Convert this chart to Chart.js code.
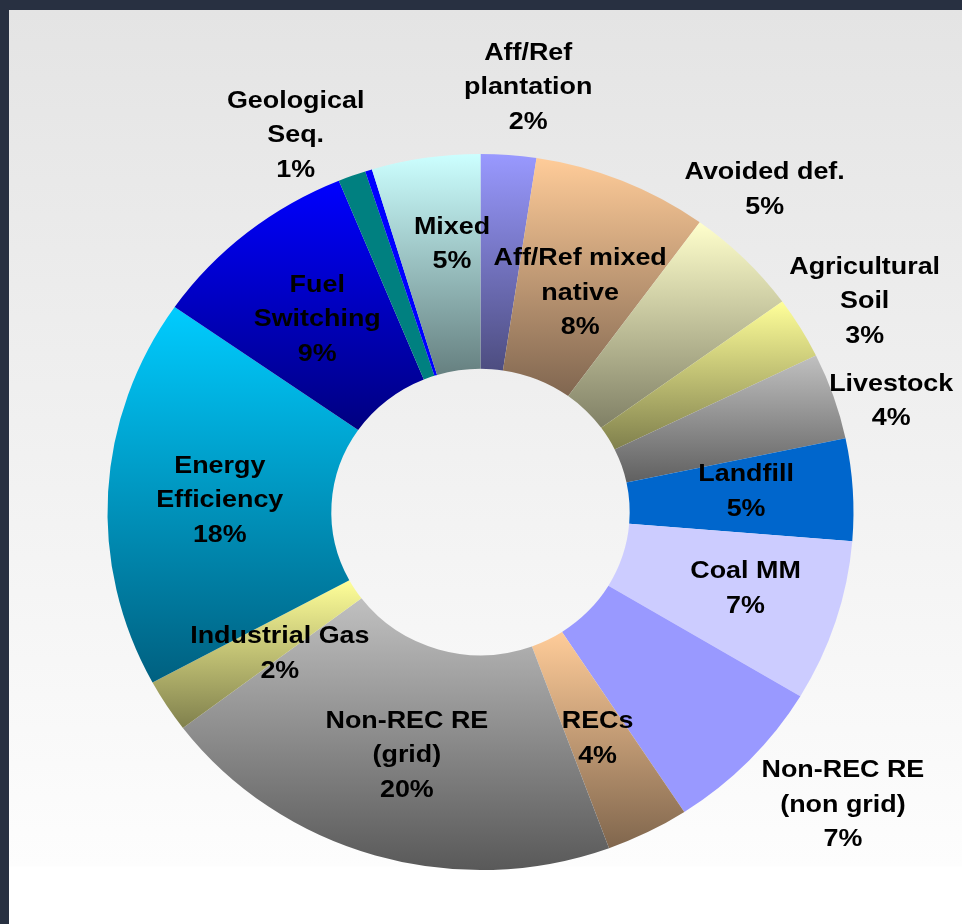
<!DOCTYPE html>
<html>
<head>
<meta charset="utf-8">
<script src="https://cdn.jsdelivr.net/npm/chart.js@4.4.0/dist/chart.umd.min.js"></script>
<style>
  html, body { margin: 0; padding: 0; }
  body { width: 962px; height: 924px; background: #283041; overflow: hidden; position: relative; }
  #panel {
    position: absolute; left: 9px; top: 10px; right: 0; bottom: 0;
    background: linear-gradient(to bottom, #e4e4e4 0px, #fdfdfd 856px, #ffffff 857px);
  }
  #wrap { position: absolute; left: 0; top: 0; width: 962px; height: 924px; }
</style>
</head>
<body>
<div id="panel"></div>
<div id="wrap"><canvas id="chart"></canvas></div>
<script>
// categories clockwise from 12 o'clock
const categories = [
  "Aff/Ref\nplantation",
  "Aff/Ref mixed\nnative",
  "Avoided def.",
  "Agricultural\nSoil",
  "Livestock",
  "Landfill",
  "Coal MM",
  "Non-REC RE\n(non grid)",
  "RECs",
  "Non-REC RE\n(grid)",
  "Industrial Gas",
  "Energy\nEfficiency",
  "Fuel\nSwitching",
  "Geological\nSeq.",
  "Other",
  "Mixed",
];
// share of projects, percent
const shares = [2.4, 7.6, 5.0, 2.8, 3.9, 4.6, 7.3, 7.2, 3.6, 20.3, 2.4, 17.6, 9.1, 1.2, 0.3, 4.7];

const topColors = [
  "#9999ff", "#ffcc99", "#ffffcc", "#ffff99", "#c0c0c0", "#0066cc", "#ccccff", "#9999ff",
  "#ffcc99", "#c0c0c0", "#ffff99", "#00ccff", "#0000ff", "#008080", "#0000ff", "#ccffff",
];
const bottomColors = [
  "#4d4d80", "#806650", "#808066", "#80804d", "#606060", "#0066cc", "#ccccff", "#9999ff",
  "#80664d", "#595959", "#80804d", "#006080", "#000080", "#008080", "#0000ff", "#668080",
];

// label placement tweaks: r = fraction of outer radius, da = degrees from slice middle
const labelNudge = {
  0: { r: 1.20, da: 1.8 },
  1: { r: 0.675, da: 1 },
  2: { r: 1.185, da: -5 },
  3: { r: 1.19, da: 0.9 },
  4: { r: 1.146, da: 2.8 },
  5: { r: 0.715, da: -1.6 },
  6: { r: 0.74, da: -1.6 },
  7: { r: 1.265, da: -4.1 },
  10: { r: 0.663, da: -3 },
  13: { r: 1.17, da: -4.9 },
  15: { r: 0.76, da: 2.7 },
};

const SQUASH = 0.96;        // ring is a little wider than tall
const TEXT_STRETCH = 1.12;  // labels are drawn slightly wide
const LINE = 34.5;
const total = shares.reduce((a, b) => a + b, 0);

function arcBox(el) {
  let top = Infinity;
  let bottom = -Infinity;
  for (let k = 0; k <= 40; k++) {
    const a = el.startAngle + (el.endAngle - el.startAngle) * k / 40;
    [el.innerRadius, el.outerRadius].forEach((r) => {
      const y = el.y + r * Math.sin(a);
      top = Math.min(top, y);
      bottom = Math.max(bottom, y);
    });
  }
  return [top, bottom];
}

const shadePlugin = {
  id: "shade",
  beforeDatasetsDraw(chart) {
    const ctx = chart.ctx;
    const meta = chart.getDatasetMeta(0);
    meta.data.forEach((el, i) => {
      const [t, b] = arcBox(el);
      const g = ctx.createLinearGradient(0, t, 0, b);
      g.addColorStop(0, topColors[i]);
      g.addColorStop(1, bottomColors[i]);
      el.options.backgroundColor = g;
    });
    const c = meta.data[0];
    ctx.save();
    ctx.translate(c.x, c.y);
    ctx.scale(1, SQUASH);
    ctx.translate(-c.x, -c.y);
  },
  afterDatasetsDraw(chart) {
    const ctx = chart.ctx;
    ctx.restore();

    const meta = chart.getDatasetMeta(0);
    ctx.save();
    ctx.font = 'bold 24px "Liberation Sans", Arial, sans-serif';
    ctx.fillStyle = "#000";
    ctx.textAlign = "center";
    ctx.textBaseline = "middle";
    meta.data.forEach((el, i) => {
      const pct = Math.round(shares[i] / total * 100);
      if (!pct) return;
      const lines = categories[i].split("\n").concat(pct + "%");
      const nudge = labelNudge[i] || {};
      const mid = (el.startAngle + el.endAngle) / 2 + (nudge.da || 0) * Math.PI / 180;
      const r = nudge.r ? nudge.r * el.outerRadius : (el.innerRadius + el.outerRadius) / 2;
      const x = el.x + r * Math.cos(mid);
      const y = el.y + r * Math.sin(mid) * SQUASH + 3;
      const y0 = y - (lines.length - 1) * LINE / 2;
      lines.forEach((s, k) => {
        ctx.save();
        ctx.translate(x, y0 + k * LINE);
        ctx.scale(TEXT_STRETCH, 1);
        ctx.fillText(s, 0, 0);
        ctx.restore();
      });
    });
    ctx.restore();
  },
};

new Chart(document.getElementById("chart"), {
  type: "doughnut",
  data: {
    labels: categories,
    datasets: [{
      data: shares,
      backgroundColor: topColors,
      borderWidth: 0,
      hoverOffset: 0,
      offset: 0,
      clip: false,
    }],
  },
  options: {
    responsive: true,
    maintainAspectRatio: false,
    animation: false,
    events: [],
    cutout: "40%",
    layout: { padding: { left: 107.5, right: 108.5, top: 139, bottom: 39 } },
    plugins: { legend: { display: false }, tooltip: { enabled: false } },
  },
  plugins: [shadePlugin],
});
</script>
</body>
</html>
